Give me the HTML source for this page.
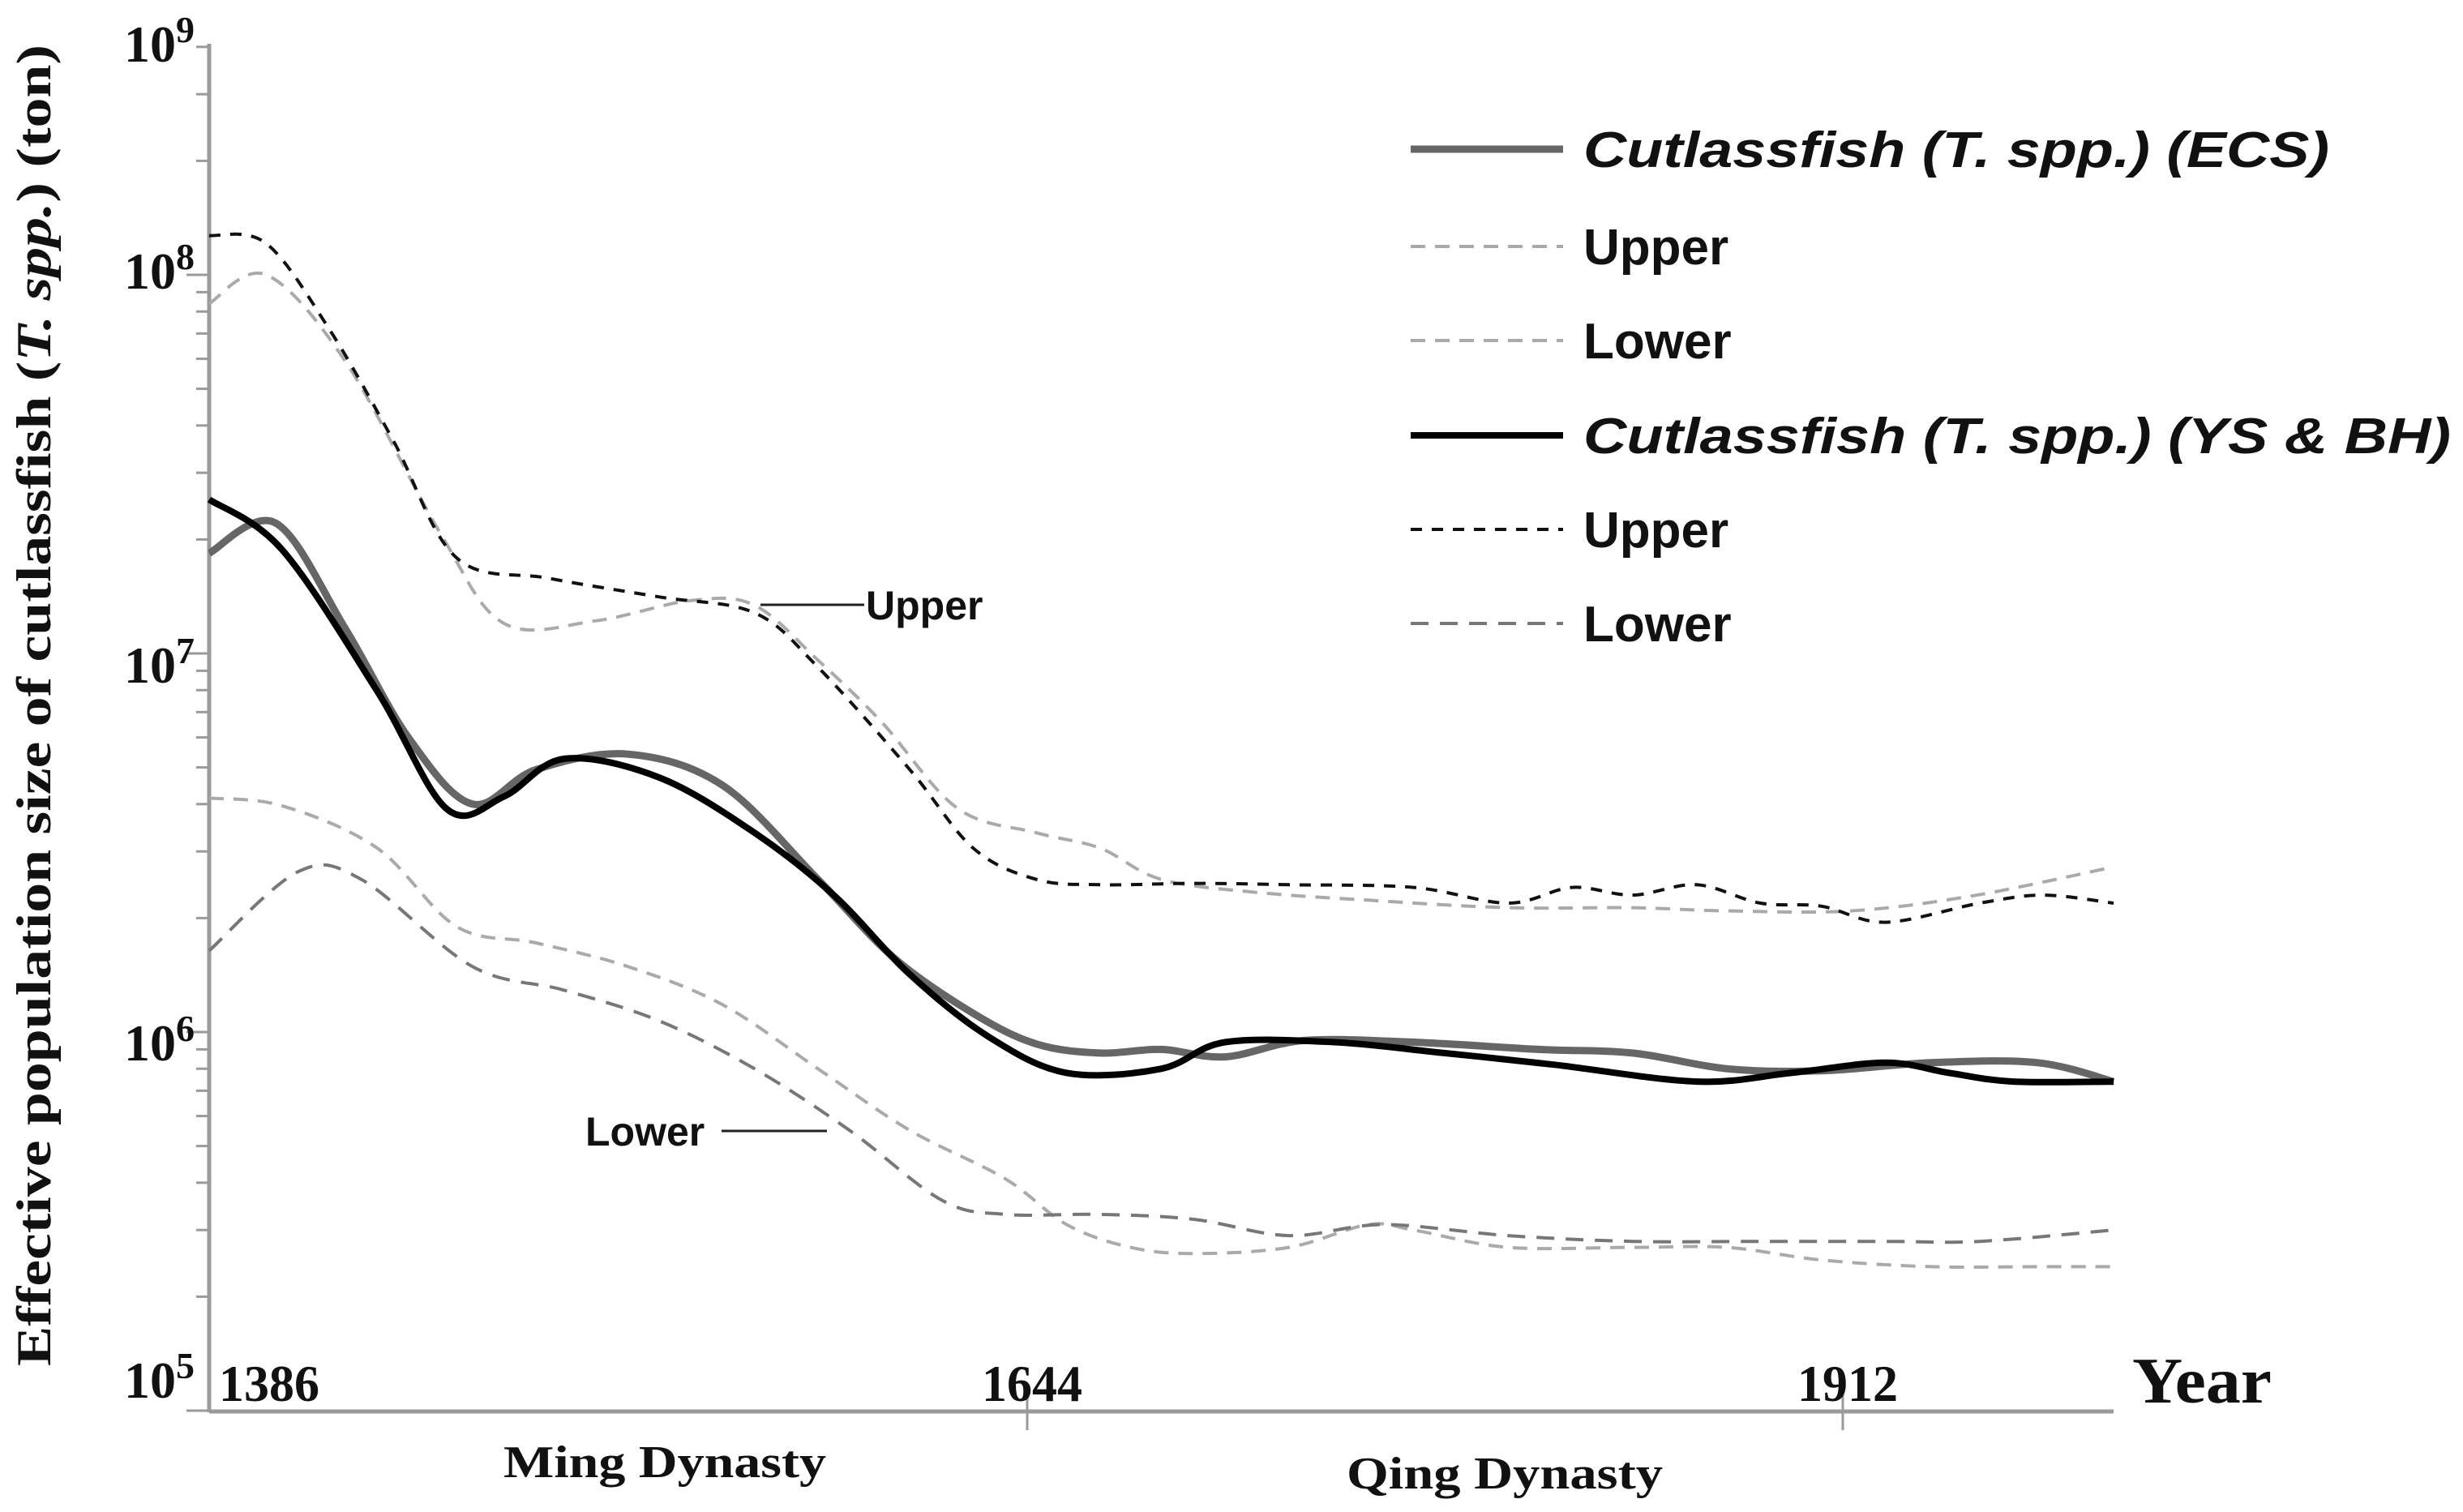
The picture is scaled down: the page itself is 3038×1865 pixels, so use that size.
<!DOCTYPE html>
<html><head><meta charset="utf-8"><style>
html,body{margin:0;padding:0;background:#fff;}
svg{display:block;}
</style></head><body>
<svg id="chart" width="3038" height="1865" viewBox="0 0 3038 1865" xmlns="http://www.w3.org/2000/svg">
<rect width="3038" height="1865" fill="#fff"/>
<g id="axes"></g>
<g id="series"></g>
<g id="legend"></g>
</svg>
<script>
// ---- data (values in tons) ----
const ecsYears = [1386,1407,1429,1449,1469,1489,1518,1548,1578,1602,1627,1647,1668,1688,1709,1735,1771,1812,1843,1874,1905,1941,1976,2001];
const ecsValues = [18.4e6,22.1e6,11.6e6,5.97e6,4.0e6,4.93e6,5.42e6,4.48e6,2.53e6,1.57e6,1.12e6,0.93e6,0.88e6,0.90e6,0.86e6,0.95e6,0.94e6,0.90e6,0.88e6,0.80e6,0.79e6,0.83e6,0.83e6,0.74e6];
const ysYears = [1386,1409,1439,1461,1479,1498,1528,1558,1583,1607,1632,1657,1688,1709,1745,1781,1817,1864,1895,1926,1947,1968,2001];
const ysValues = [25.5e6,18.8e6,7.95e6,3.88e6,4.19e6,5.27e6,4.70e6,3.36e6,2.30e6,1.42e6,0.97e6,0.78e6,0.80e6,0.94e6,0.94e6,0.88e6,0.82e6,0.74e6,0.78e6,0.83e6,0.78e6,0.74e6,0.74e6];
const ecsUpperYears = [1386,1404,1429,1459,1479,1508,1538,1558,1578,1598,1622,1647,1668,1688,1719,1756,1802,1843,1874,1915,1956,2001];
const ecsUpperValues = [84e6,100e6,59e6,20.7e6,12.0e6,12.2e6,13.8e6,13.4e6,9.6e6,6.6e6,3.9e6,3.36e6,3.06e6,2.53e6,2.34e6,2.23e6,2.13e6,2.13e6,2.09e6,2.09e6,2.30e6,2.73e6];
const ysUpperYears = [1386,1404,1424,1444,1464,1493,1528,1558,1578,1607,1627,1647,1668,1699,1730,1771,1802,1823,1843,1864,1885,1905,1926,1957,1978,2001];
const ysUpperValues = [127e6,121e6,71.6e6,36.6e6,17.9e6,15.8e6,14.1e6,12.8e6,9.2e6,4.93e6,3.06e6,2.53e6,2.45e6,2.47e6,2.45e6,2.41e6,2.19e6,2.41e6,2.30e6,2.45e6,2.19e6,2.15e6,1.95e6,2.19e6,2.30e6,2.19e6];
const ecsLowerYears = [1386,1409,1439,1464,1489,1518,1548,1578,1607,1637,1657,1678,1699,1730,1756,1771,1802,1843,1874,1905,1941,1976,2001];
const ecsLowerValues = [4.15e6,3.96e6,3.06e6,1.90e6,1.72e6,1.49e6,1.18e6,0.80e6,0.55e6,0.41e6,0.31e6,0.27e6,0.26e6,0.27e6,0.31e6,0.30e6,0.27e6,0.27e6,0.27e6,0.25e6,0.24e6,0.24e6,0.24e6];
const ysLowerYears = [1386,1414,1434,1469,1498,1528,1558,1588,1617,1637,1668,1699,1730,1761,1802,1843,1885,1926,1957,2001];
const ysLowerValues = [1.64e6,2.65e6,2.53e6,1.49e6,1.29e6,1.07e6,0.80e6,0.55e6,0.36e6,0.33e6,0.33e6,0.32e6,0.29e6,0.31e6,0.29e6,0.28e6,0.28e6,0.28e6,0.28e6,0.30e6];
const xTickYears = [1386,1644,1912];
const yDecades = [5,6,7,8];
const legendLabels = ["Cutlassfish (T. spp.) (ECS)","Upper","Lower","Cutlassfish (T. spp.) (YS & BH)","Upper","Lower"];

// ---- scales ----
function X(yr){
  if(yr<=1644) return 258 + (yr-1386)*(1267-258)/(1644-1386);
  return 1267 + (yr-1644)*(2273-1267)/(1912-1644);
}
function Y(v){ return 1273 - (Math.log10(v)-6)*467; }

const NS="http://www.w3.org/2000/svg";
function mk(tag, attrs, parent){
  const e=document.createElementNS(NS,tag);
  for(const k in attrs) e.setAttribute(k,attrs[k]);
  parent.appendChild(e); return e;
}
const axes=document.getElementById('axes');
const series=document.getElementById('series');
const legend=document.getElementById('legend');

// y axis
let yl=mk('line',{x1:258,y1:54,x2:258,y2:1742,stroke:'#9a9a9a','stroke-width':5},axes);


for(let d=5; d<=8; d++){
  for(let m=1;m<=9;m++){
    const v=m*Math.pow(10,d);
    const y=Y(v);
    if(y<54) continue;
    const t=mk('line',{x1:m===1?230:242,y1:y,x2:258,y2:y,stroke:'#9a9a9a','stroke-width':3},axes);
    
    
  }
}
const yLabelPos=[[5,1724],[6,1308],[7,842],[8,356]];
yLabelPos.forEach(p=>{
  const t=mk('text',{x:240,y:p[1],'text-anchor':'end','font-family':'Liberation Serif, serif','font-weight':'bold','font-size':64,fill:'#111'},axes);
  t.textContent='10';
  const s=mk('tspan',{dy:-24,'font-size':46},t); s.textContent=String(p[0]);
  
  
});
let t9=mk('text',{x:240,y:76,'text-anchor':'end','font-family':'Liberation Serif, serif','font-weight':'bold','font-size':64,fill:'#111'},axes);
t9.textContent='10';
mk('tspan',{dy:-24,'font-size':46},t9).textContent='9';



// y title
let yt=mk('text',{transform:'translate(62,870) rotate(-90)','text-anchor':'middle','font-family':'Liberation Serif, serif','font-weight':'bold','font-size':60,fill:'#111',textLength:1630,lengthAdjust:'spacingAndGlyphs'},axes);
yt.innerHTML='Effective population size of cutlassfish (<tspan font-style="italic">T. spp.</tspan>) (ton)';



// x axis
let xl=mk('line',{x1:258,y1:1741,x2:2607,y2:1741,stroke:'#9a9a9a','stroke-width':5},axes);


xTickYears.forEach((yr,i)=>{
  if(i>0){
    const t=mk('line',{x1:X(yr),y1:1712,x2:X(yr),y2:1764,stroke:'#9a9a9a','stroke-width':3},axes);
    
    
  }
  const lab=mk('text',{x:i===0?X(yr)+12:X(yr)+6,y:1728,'text-anchor':i===0?'start':'middle','font-family':'Liberation Serif, serif','font-weight':'bold','font-size':64,fill:'#111',textLength:124,lengthAdjust:'spacingAndGlyphs'},axes);
  lab.textContent=String(yr);
  
  
});
let yr=mk('text',{x:2630,y:1730,'font-family':'Liberation Serif, serif','font-weight':'bold','font-size':80,fill:'#111',textLength:172,lengthAdjust:'spacingAndGlyphs'},axes);
yr.textContent='Year';


let ming=mk('text',{x:820,y:1822,'text-anchor':'middle','font-family':'Liberation Serif, serif','font-weight':'bold','font-size':56,fill:'#111',textLength:398,lengthAdjust:'spacingAndGlyphs'},axes);
ming.textContent='Ming Dynasty';


let qing=mk('text',{x:1856,y:1836,'text-anchor':'middle','font-family':'Liberation Serif, serif','font-weight':'bold','font-size':56,fill:'#111',textLength:390,lengthAdjust:'spacingAndGlyphs'},axes);
qing.textContent='Qing Dynasty';



// smooth path (Catmull-Rom)
function pathFor(years, vals){
  const p=years.map((y,i)=>[X(y),Y(vals[i])]);
  let d='M'+p[0][0].toFixed(1)+','+p[0][1].toFixed(1);
  for(let i=0;i<p.length-1;i++){
    const p0=p[i-1]||p[i], p1=p[i], p2=p[i+1], p3=p[i+2]||p2;
    const c1=[p1[0]+(p2[0]-p0[0])/6, p1[1]+(p2[1]-p0[1])/6];
    const c2=[p2[0]-(p3[0]-p1[0])/6, p2[1]-(p3[1]-p1[1])/6];
    d+=' C'+c1[0].toFixed(1)+','+c1[1].toFixed(1)+' '+c2[0].toFixed(1)+','+c2[1].toFixed(1)+' '+p2[0].toFixed(1)+','+p2[1].toFixed(1);
  }
  return d;
}
const styles={
  ecsUpper:{stroke:'#aaaaaa',w:4,dash:'18 12'},
  ecsLower:{stroke:'#aaaaaa',w:4,dash:'18 12'},
  ysUpper:{stroke:'#111',w:4,dash:'14 12'},
  ysLower:{stroke:'#777',w:4,dash:'22 14'},
  ecs:{stroke:'#666',w:9,dash:''},
  ys:{stroke:'#000',w:8,dash:''}
};
function draw(years, vals, st, name){
  const e=mk('path',{d:pathFor(years,vals),fill:'none',stroke:st.stroke,'stroke-width':st.w,'stroke-dasharray':st.dash,'stroke-linecap':'butt','stroke-linejoin':'round'},series);
  
  
}
draw(ecsUpperYears,ecsUpperValues,styles.ecsUpper,'ecs-upper-line');
draw(ecsLowerYears,ecsLowerValues,styles.ecsLower,'ecs-lower-line');
draw(ysUpperYears,ysUpperValues,styles.ysUpper,'ys-bh-upper-line');
draw(ysLowerYears,ysLowerValues,styles.ysLower,'ys-bh-lower-line');
draw(ecsYears,ecsValues,styles.ecs,'ecs-main-line');
draw(ysYears,ysValues,styles.ys,'ys-bh-main-line');

// annotations
let a1=mk('line',{x1:938,y1:746,x2:1066,y2:746,stroke:'#222','stroke-width':3},series);


let a1t=mk('text',{x:1068,y:764,'font-family':'Liberation Sans, sans-serif','font-weight':'bold','font-size':50,fill:'#111'},series);
a1t.textContent='Upper';


let a2=mk('line',{x1:890,y1:1395,x2:1020,y2:1395,stroke:'#222','stroke-width':3},series);


let a2t=mk('text',{x:722,y:1413,'font-family':'Liberation Sans, sans-serif','font-weight':'bold','font-size':50,fill:'#111'},series);
a2t.textContent='Lower';



// legend
const legStyles=[styles.ecs,styles.ecsUpper,styles.ecsLower,styles.ys,styles.ysUpper,styles.ysLower];
const legRowsY=[184,304,420,537,653,769];
const legWidths=[920,0,0,1070,0,0];
legendLabels.forEach((lab,i)=>{
  const st=legStyles[i];
  const l=mk('line',{x1:1740,y1:legRowsY[i],x2:1928,y2:legRowsY[i],stroke:st.stroke,'stroke-width':st.w,'stroke-dasharray':st.dash},legend);
  
  
  const attrs={x:1953,y:legRowsY[i]+22,'font-family':'Liberation Sans, sans-serif','font-weight':'bold','font-size':62,fill:'#111'};
  if(legWidths[i]){attrs['font-style']='italic';attrs.textLength=legWidths[i];attrs.lengthAdjust='spacingAndGlyphs';}
  const t=mk('text',attrs,legend);
  t.textContent=lab;
  
  
});
</script>
</body></html>
